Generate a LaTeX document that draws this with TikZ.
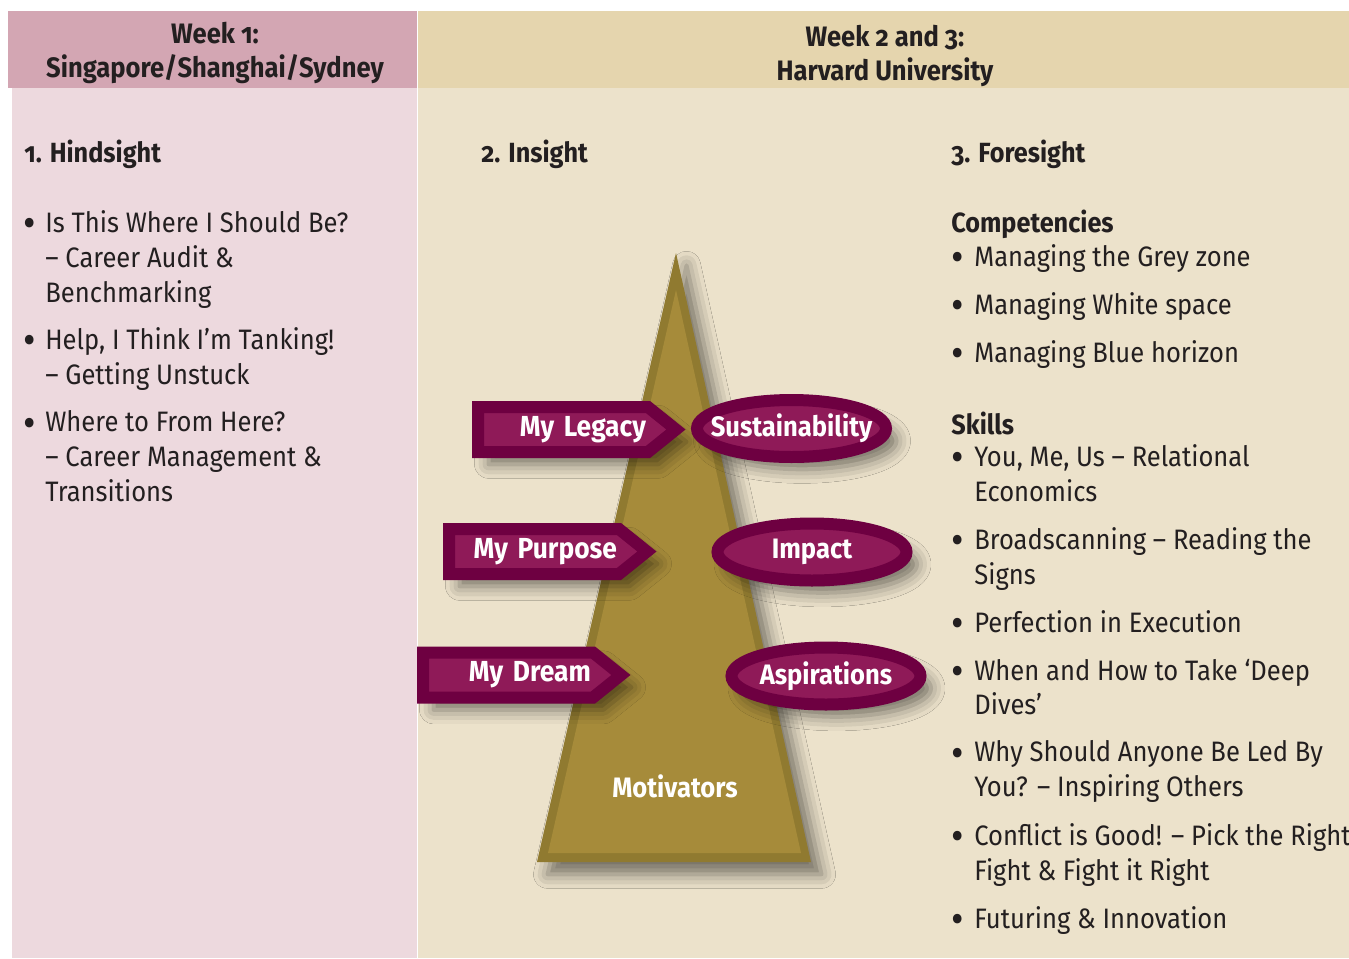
\documentclass[tikz,border=0pt]{standalone}
\usepackage{fontspec}
\setmainfont{Fira Sans}[Numbers=OldStyle, FakeStretch=0.91]
\usetikzlibrary{positioning,shapes.geometric,shapes.symbols,shadows.blur}

\definecolor{pinkhead}{HTML}{D3A6B3}
\definecolor{pinkbody}{HTML}{EDD9DE}
\definecolor{sandhead}{HTML}{E5D5AE}
\definecolor{sandbody}{HTML}{ECE2CB}
\definecolor{ink}{HTML}{231F20}
\definecolor{plumdark}{HTML}{6E0041}
\definecolor{plum}{HTML}{8F1A58}
\definecolor{golddark}{HTML}{907A30}
\definecolor{gold}{HTML}{A68B3A}

\begin{document}
\begin{tikzpicture}[x=0.02cm, y=-0.02cm,
    txt/.style ={anchor=north west, align=left, inner sep=0pt, text=ink,
                 font=\fontsize{16}{19.84}\selectfont, execute at begin node=\strut},
    heading/.style ={anchor=west, inner sep=0pt, text=ink, font=\fontsize{15.8}{20}\selectfont\bfseries},
    weekhead/.style ={align=center, inner sep=0pt, text=ink, font=\fontsize{16}{19.3}\selectfont\bfseries},
    dot/.style ={inner sep=0pt, text=ink, font=\fontsize{24}{24}\selectfont},
    softshadow/.style ={blur shadow={shadow xshift=6pt, shadow yshift=-7pt, shadow blur radius=8pt, shadow opacity=50}},
    sign/.style ={signal, signal to=east, signal pointer angle=77.6, fill=plum, draw=plumdark,
                  line width=0.24cm, text width=3.32cm, align=right, minimum height=0.9cm,
                  inner xsep=0.04cm, inner ysep=0pt, outer sep=0pt, anchor=west,
                  text=white, font=\fontsize{16.5}{20}\selectfont\bfseries, softshadow},
    goal/.style ={ellipse, fill=plum, draw=plumdark, line width=0.24cm, minimum width=3.78cm,
                  minimum height=1.14cm, inner sep=0pt, text=white,
                  font=\fontsize{16}{20}\selectfont\bfseries, softshadow}]
   \useasboundingbox (0,0) rectangle (1349,958);
   \fill[white] (0,0) rectangle (1349,958);
   \fill[pinkbody] (12,88) rectangle (417,958);
   \fill[pinkhead] (8,11) rectangle (417,88);
   \fill[sandbody] (418,88) rectangle (1349,958);
   \fill[sandhead] (418,11) rectangle (1349,88);

   \node[weekhead] (week1) at (215,53) {Week 1:\\Singapore/Shanghai/Sydney};
   \node[weekhead] (week23) at (885,56) {Week 2 and 3:\\Harvard University};

   \node[heading] (hindsight) at (24,154) {1. Hindsight};
   \node[heading] (insight) at (481,154) {2. Insight};
   \node[heading] (foresight) at (951,154) {3. Foresight};
   \node[heading] (competencies) at (951,224) {Competencies};
   \node[heading] (skills) at (951,423) {Skills};

   \node[dot] (h1) at (30,228) {\textbullet};
   \node[dot] (h2) at (30,345) {\textbullet};
   \node[dot] (h3) at (30,428) {\textbullet};
   \node[txt] (audit) at (45,210.5) {Is This Where I Should Be?\\ -- Career Audit \&\\ Benchmarking};
   \node[txt] (tanking) at (45,327.5) {Help, I Think I’m Tanking!\\ -- Getting Unstuck};
   \node[txt] (fromhere) at (45,410.5) {Where to From Here?\\ -- Career Management \&\\ Transitions};

   \node[dot] (c1) at (958,262) {\textbullet};
   \node[dot] (c2) at (958,310) {\textbullet};
   \node[dot] (c3) at (958,358) {\textbullet};
   \node[txt] (grey) at (974,241.5) {Managing the Grey zone};
   \node[txt] (white) at (974,289.5) {Managing White space};
   \node[txt] (blue) at (974,337.5) {Managing Blue horizon};

   \node[dot] (s1) at (958,462) {\textbullet};
   \node[dot] (s2) at (958,545) {\textbullet};
   \node[dot] (s3) at (958,628) {\textbullet};
   \node[dot] (s4) at (958,676) {\textbullet};
   \node[dot] (s5) at (958,758) {\textbullet};
   \node[dot] (s6) at (958,841) {\textbullet};
   \node[dot] (s7) at (958,924) {\textbullet};
   \node[txt] (relational) at (974,444.5) {You, Me, Us -- Relational\\ Economics};
   \node[txt] (scanning) at (974,527.5) {Broadscanning -- Reading the\\ Signs};
   \node[txt] (execution) at (974,607.5) {Perfection in Execution};
   \node[txt] (dives) at (974,658.5) {When and How to Take ‘Deep\\ Dives’};
   \node[txt] (inspiring) at (974,740.5) {Why Should Anyone Be Led By\\ You? -- Inspiring Others};
   \node[txt] (conflict) at (974,823.5) {Conflict is Good! -- Pick the Right\\ Fight \& Fight it Right};
   \node[txt] (futuring) at (974,903.5) {Futuring \& Innovation};

   \coordinate (apex) at (676,253);
   \coordinate (baseL) at (537,862);
   \coordinate (baseR) at (811,862);
   \fill[golddark, softshadow] (apex) -- (baseR) -- (baseL) -- cycle;
   \fill[gold] (676,290) -- (801,853) -- (548,853) -- cycle;
   \node[text=white, font=\fontsize{16}{20}\selectfont\bfseries] (motivators) at (675,786) {Motivators};

   \node[sign] (legacy) at (478,429.5) {My Legacy};
   \node[sign] (purpose) at (449,551.5) {My Purpose};
   \node[sign] (dream) at (423,675) {My Dream};

   \node[goal] (sustain) at (791.5,428.5) {\makebox[0pt]{Sustainability}};
   \node[goal] (impact) at (812,552) {\makebox[0pt]{Impact}};
   \node[goal] (aspire) at (826,676) {\makebox[0pt]{Aspirations}};
 \end{tikzpicture}
\end{document}
